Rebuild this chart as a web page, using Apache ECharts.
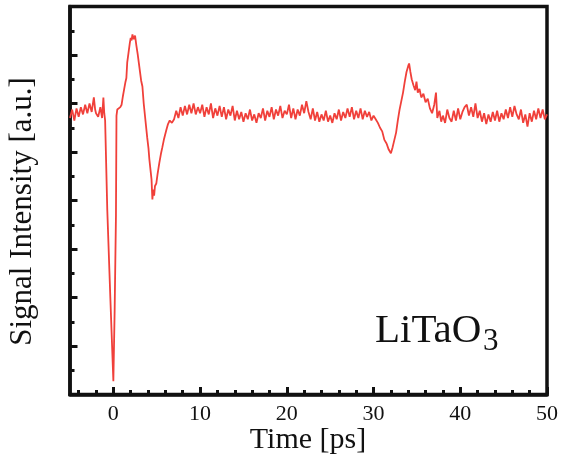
<!DOCTYPE html>
<html>
<head>
<meta charset="utf-8">
<script src="https://cdn.jsdelivr.net/npm/echarts@6/dist/echarts.min.js"></script>
<style>
html,body{margin:0;padding:0;background:#fff;}
#chart{width:561px;height:460px;}
</style>
</head>
<body>
<div id="chart"></div>
<script>
// Time axis values (ps)
const timePs = [
-5,-4.75,-4.5,-4.25,-4,-3.75,-3.5,-3.25,-3,-2.75,-2.5,-2.25,-2.1,-2,-1.75,-1.5,-1.3,-1.15,-1.05,-0.95,
-0.7,-0.35,0,0.15,0.3,0.36,0.45,0.6,0.8,0.95,1.1,1.25,1.4,1.5,1.6,1.75,1.9,2.0,2.1,2.2,
2.35,2.5,2.65,2.8,3.0,3.2,3.35,3.5,3.7,3.9,4.05,4.15,4.3,4.4,4.5,4.6,4.7,4.8,4.95,5.1,
5.3,5.5,5.65,5.85,6.1,6.3,6.5,6.75,7.0,7.25,7.5,7.75,8.0,8.25,8.5,8.75,9.0,9.25,9.5,9.75,
10,10.25,10.5,10.75,11,11.25,11.5,11.75,12,12.25,12.5,12.75,13,13.25,13.5,13.75,14,14.25,14.5,14.75,
15,15.25,15.5,15.75,16,16.25,16.5,16.75,17,17.25,17.5,17.75,18,18.25,18.5,18.75,19,19.25,19.5,19.75,
20,20.25,20.5,20.75,21,21.25,21.5,21.75,22,22.25,22.5,22.75,23,23.25,23.5,23.75,24,24.25,24.5,24.75,
25,25.25,25.5,25.75,26,26.25,26.5,26.75,27,27.25,27.5,27.75,28,28.25,28.5,28.75,29,29.25,29.5,29.75,
30,30.25,30.5,30.75,31,31.25,31.5,31.75,32,32.2,32.4,32.6,32.8,33,33.2,33.4,33.6,33.8,34,34.1,
34.25,34.4,34.6,34.8,34.95,35.1,35.3,35.5,35.75,36,36.25,36.5,36.75,37,37.2,37.35,37.6,37.8,38,38.25,
38.5,38.75,39,39.25,39.5,39.75,40,40.25,40.5,40.75,41,41.25,41.5,41.75,42,42.25,42.5,42.75,43,43.25,
43.5,43.75,44,44.25,44.5,44.75,45,45.25,45.5,45.75,46,46.25,46.5,46.75,47,47.25,47.5,47.75,48,48.25,
48.5,48.75,49,49.25,49.5,49.75,50
];
// Signal intensity (a.u.)
const signal = [
11.4,11.75,11.3,11.8,11.45,11.85,11.55,11.95,11.6,12.0,11.65,12.25,11.75,11.6,11.45,11.85,11.4,12.25,11.6,11.3,
7.6,4.0,0.55,3.5,7.4,11.5,11.75,11.7,11.85,11.95,12.3,12.6,12.9,13.05,13.7,14.1,14.5,14.7,14.6,14.85,
14.65,14.8,14.4,14.05,13.5,12.95,12.7,12.0,11.3,10.6,10.15,9.7,9.2,8.87,8.04,8.45,8.2,8.6,8.7,9.1,
9.55,9.95,10.2,10.55,10.9,11.15,11.3,11.2,11.35,11.7,11.4,11.85,11.5,11.9,11.55,11.95,11.6,12.0,11.55,11.85,
11.6,11.95,11.45,11.85,11.55,12.0,11.4,11.8,11.5,11.9,11.45,11.85,11.35,11.75,11.5,11.9,11.3,11.7,11.35,11.65,
11.25,11.6,11.35,11.75,11.3,11.55,11.2,11.6,11.4,11.8,11.3,11.7,11.45,11.85,11.35,11.75,11.5,11.9,11.4,11.7,
11.55,11.95,11.4,11.8,11.35,11.75,11.5,11.95,11.6,12.1,11.65,11.35,11.8,11.3,11.65,11.25,11.55,11.3,11.7,11.25,
11.5,11.2,11.6,11.35,11.75,11.3,11.65,11.4,11.8,11.45,11.85,11.35,11.7,11.4,11.8,11.35,11.7,11.45,11.65,11.3,
11.5,11.35,11.2,11.0,10.85,10.5,10.35,10.1,9.95,10.2,10.15,10.8,11.3,11.75,12.1,12.45,12.9,13.3,13.55,13.65,
13.3,13.0,12.75,12.55,12.9,12.45,12.6,12.25,12.4,12.05,12.2,11.8,11.6,11.95,12.45,11.4,11.7,11.25,11.5,11.2,
11.75,11.4,11.25,11.7,11.3,11.8,11.35,11.65,11.85,11.95,11.5,11.85,11.45,12.0,11.4,11.7,11.25,11.6,11.15,11.55,
11.25,11.65,11.3,11.7,11.25,11.6,11.35,11.75,11.4,11.85,11.45,11.9,11.55,11.35,11.75,11.2,11.55,11.05,11.6,11.25,
11.7,11.35,11.8,11.4,11.75,11.35,11.55
];
const xMajorTicks = [0,10,20,30,40,50];
const xMinorTicks = [-4,-2,2,4,6,8,12,14,16,18,22,24,26,28,32,34,36,38,42,44,46,48];

const seriesData = timePs.map((t, i) => [t, signal[i]]);
const serif = '"Liberation Serif", "DejaVu Serif", serif';
const frame = '#111';

const chart = echarts.init(document.getElementById('chart'), null, {renderer: 'canvas'});
chart.setOption({
  animation: false,
  backgroundColor: '#fff',
  grid: {left: 70, right: 13.5, top: 6.5, bottom: 65.5, show: true, borderColor: frame, borderWidth: 3.5, backgroundColor: 'transparent'},
  xAxis: [{
    type: 'value', min: -5, max: 50,
    axisLine: {show: true, onZero: false, lineStyle: {color: frame, width: 3.5}},
    axisTick: {show: true, inside: true, length: 4.5, customValues: xMinorTicks, lineStyle: {color: frame, width: 3}},
    axisLabel: {show: true, customValues: xMajorTicks, margin: 9, color: '#111', fontFamily: serif, fontSize: 22},
    splitLine: {show: false}
  }, {
    type: 'value', min: -5, max: 50, position: 'bottom',
    axisLine: {show: false, onZero: false},
    axisTick: {show: true, inside: true, length: 7.5, customValues: xMajorTicks, lineStyle: {color: frame, width: 3}},
    axisLabel: {show: false},
    splitLine: {show: false}
  }],
  yAxis: {
    type: 'value', min: 0, max: 16, interval: 2,
    axisLine: {show: true, onZero: false, lineStyle: {color: frame, width: 3.5}},
    axisTick: {show: true, inside: true, length: 7.5, lineStyle: {color: frame, width: 3}},
    minorTick: {show: true, splitNumber: 2, length: 4.5, lineStyle: {color: frame, width: 3}},
    axisLabel: {show: false},
    splitLine: {show: false},
    minorSplitLine: {show: false}
  },
  series: [{
    type: 'line',
    data: seriesData,
    xAxisIndex: 0,
    showSymbol: false,
    symbol: 'none',
    lineStyle: {color: '#f0403a', width: 1.8},
    z: 1
  }],
  graphic: [
    {type: 'text', x: 23, y: 211.5, rotation: Math.PI / 2,
     style: {text: 'Signal Intensity [a.u.]', fontFamily: serif, fontSize: 31, fill: '#111', align: 'center', verticalAlign: 'middle'}},
    {type: 'text', x: 308, y: 440,
     style: {text: 'Time [ps]', fontFamily: serif, fontSize: 30, fill: '#111', align: 'center', verticalAlign: 'middle'}},
    {type: 'text', x: 375, y: 331,
     style: {text: 'LiTaO', fontFamily: serif, fontSize: 41, fill: '#111', align: 'left', verticalAlign: 'middle'}},
    {type: 'text', x: 483, y: 342,
     style: {text: '3', fontFamily: serif, fontSize: 31, fill: '#111', align: 'left', verticalAlign: 'middle'}}
  ]
});
</script>
</body>
</html>
